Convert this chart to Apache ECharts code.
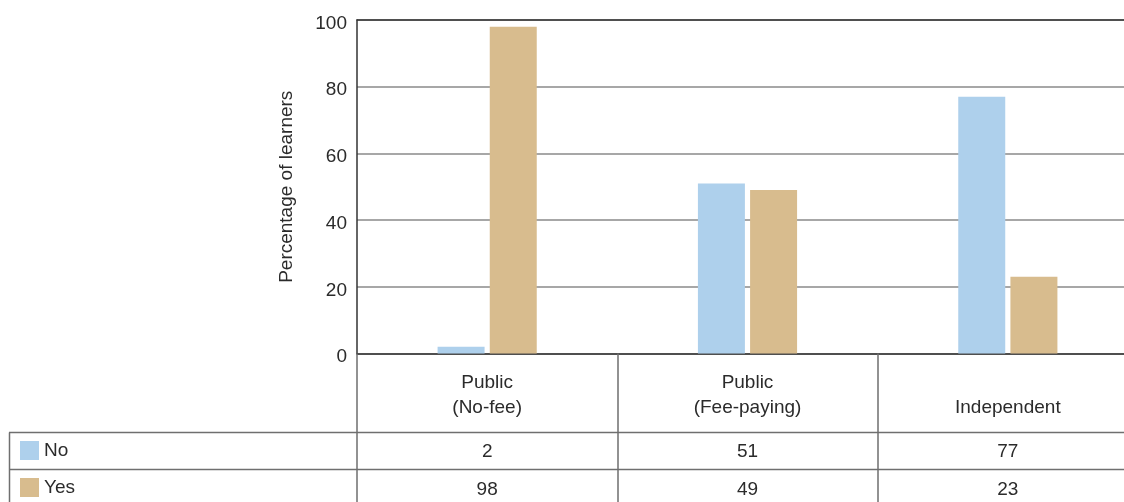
<!DOCTYPE html>
<html>
<head>
<meta charset="utf-8">
<script src="https://cdn.jsdelivr.net/npm/echarts@6/dist/echarts.min.js"></script>
<style>
  html, body { margin: 0; padding: 0; background: #fff; overflow: hidden; }
  #chart { width: 1138px; height: 502px; }
</style>
</head>
<body>
<div id="chart"></div>
<script>
// School types and the share of learners in each answer group
const categories = ['Public\n(No-fee)', 'Public\n(Fee-paying)', 'Independent'];
const seriesNames = ['No', 'Yes'];
const noValues = [2, 51, 77];
const yesValues = [98, 49, 23];
const yTicks = [0, 20, 40, 60, 80, 100];

const FONT = 'Liberation Sans, Arial, sans-serif';
const TEXT = '#2b2b2b';
const ROW1 = 432.5, ROW2 = 469.5, RIGHT = 1138;

const chart = echarts.init(document.getElementById('chart'));

// Hidden helper axes that print the table values under each category
function valueRowAxis(values, margin) {
  return {
    type: 'category', data: categories, position: 'bottom', gridIndex: 0,
    axisLine: { show: false }, axisTick: { show: false },
    axisLabel: {
      margin: margin, fontSize: 19, color: TEXT, fontFamily: FONT,
      verticalAlign: 'middle',
      formatter: (v, i) => String(values[i])
    }
  };
}

function legendRow(name, top) {
  return {
    left: 20, top: top, itemWidth: 19, itemHeight: 19, itemGap: 0,
    icon: 'rect', selectedMode: false, padding: 0,
    textStyle: { fontSize: 19, color: TEXT, fontFamily: FONT },
    data: [name]
  };
}

chart.setOption({
  animation: false,
  textStyle: { fontFamily: FONT },
  grid: { left: 357, top: 20, right: 0, bottom: 148.5, containLabel: false },
  legend: [legendRow('No', 441), legendRow('Yes', 478)],
  xAxis: [
    {
      type: 'category', data: categories, position: 'bottom',
      axisLine: { show: true, lineStyle: { color: '#333', width: 1.5 } },
      axisTick: { show: true, length: 150, lineStyle: { color: '#6f6f6f', width: 1.5 } },
      axisLabel: {
        margin: 67, fontSize: 19, lineHeight: 25, color: TEXT, fontFamily: FONT,
        verticalAlign: 'bottom', align: 'center'
      }
    },
    valueRowAxis(noValues, 98),
    valueRowAxis(yesValues, 136),
    {
      type: 'category', data: categories, position: 'top',
      axisLine: { show: true, lineStyle: { color: '#333', width: 1.5 } },
      axisTick: { show: false }, axisLabel: { show: false }
    }
  ],
  yAxis: {
    type: 'value', min: 0, max: 100, interval: 20,
    name: 'Percentage of learners', nameLocation: 'middle', nameGap: 61,
    nameTextStyle: { fontSize: 19, color: TEXT, fontFamily: FONT },
    axisLine: { show: true, lineStyle: { color: '#333', width: 1.5 } },
    axisTick: { show: false },
    axisLabel: {
      margin: 10, fontSize: 19, color: TEXT, fontFamily: FONT,
      formatter: v => yTicks.includes(v) ? '{t|' + v + '}' : '',
      rich: { t: { fontSize: 19, color: TEXT, fontFamily: FONT, padding: [7, 0, 0, 0] } }
    },
    splitLine: { show: true, lineStyle: { color: '#8a8a8a', width: 1.5 } }
  },
  series: [
    { name: 'No', type: 'bar', data: noValues, barWidth: 47, barGap: '11%',
      itemStyle: { color: '#aed0ec' } },
    { name: 'Yes', type: 'bar', data: yesValues, barWidth: 47, barGap: '11%',
      itemStyle: { color: '#d8bc8e' } }
  ],
  // Table rules below the plot
  graphic: [
    { type: 'line', shape: { x1: 9, y1: ROW1, x2: RIGHT, y2: ROW1 }, style: { stroke: '#6f6f6f', lineWidth: 1.5 } },
    { type: 'line', shape: { x1: 9, y1: ROW2, x2: RIGHT, y2: ROW2 }, style: { stroke: '#6f6f6f', lineWidth: 1.5 } },
    { type: 'line', shape: { x1: 9.5, y1: ROW1, x2: 9.5, y2: 502 }, style: { stroke: '#6f6f6f', lineWidth: 1.5 } }
  ]
});
</script>
</body>
</html>
